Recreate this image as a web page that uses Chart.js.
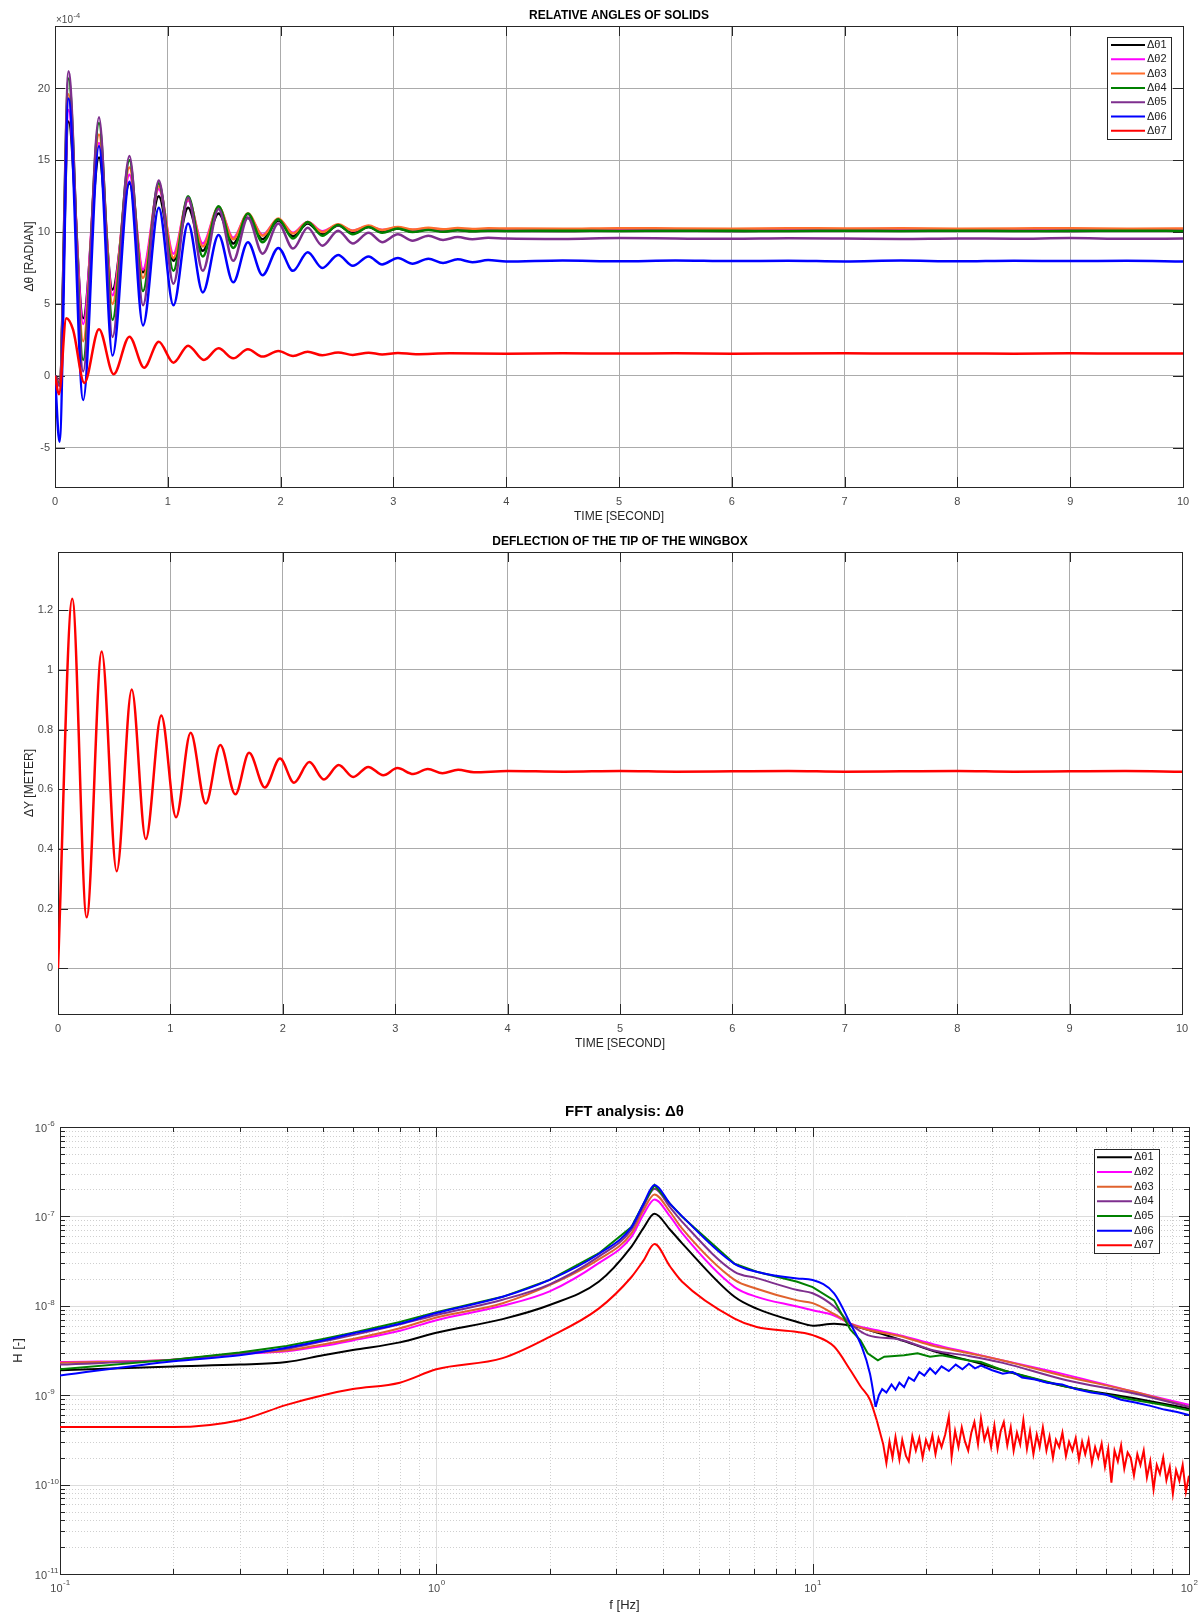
<!DOCTYPE html>
<html>
<head>
<meta charset="utf-8">
<title>Wingbox response</title>
<script src="https://cdn.jsdelivr.net/npm/chart.js@4.4.1/dist/chart.umd.min.js"></script>
<style>
  html, body { margin: 0; padding: 0; background: #ffffff; }
  #page { position: relative; width: 1204px; height: 1614px; overflow: hidden; }
  canvas { position: absolute; left: 0; }
</style>
</head>
<body>
<div id="page">
  <canvas id="angles" width="1204" height="530" style="top:0px"></canvas>
  <canvas id="tip" width="1204" height="530" style="top:530px"></canvas>
  <canvas id="fft" width="1204" height="554" style="top:1060px"></canvas>
</div>
<script>
// ---------- relative angles (values in 1e-4 rad) ----------
const tAngles = [0, 0.04, 0.12, 0.25, 0.39, 0.51, 0.66, 0.78, 0.92, 1.05, 1.18, 1.31, 1.45, 1.58, 1.71, 1.84, 1.98, 2.11, 2.24, 2.37,
  2.51, 2.64, 2.78, 2.90, 3.04, 3.17, 3.31, 3.44, 3.57, 3.70, 3.84, 4.0, 4.5, 5.0, 5.5, 6.0, 6.5, 7.0, 7.5, 8.0, 8.5, 9.0, 9.5, 10];
const dTheta1 = [0, -0.3, 17.7, 4.0, 15.2, 6.0, 13.4, 7.2, 12.5, 8.0, 11.7, 8.7, 11.3, 9.2, 11.0, 9.5, 10.8, 9.7, 10.6, 9.85,
  10.45, 9.95, 10.35, 10.0, 10.25, 10.02, 10.2, 10.05, 10.15, 10.07, 10.12, 10.1, 10.08, 10.12, 10.1, 10.08, 10.12, 10.1, 10.09, 10.11, 10.1, 10.08, 10.11, 10.1];
const dTheta2 = [0, -0.4, 18.5, 3.6, 16.2, 5.6, 14.0, 7.4, 13.0, 8.5, 12.2, 9.2, 11.7, 9.6, 11.25, 9.8, 10.9, 9.95, 10.7, 10.05,
  10.5, 10.1, 10.4, 10.15, 10.3, 10.15, 10.25, 10.18, 10.22, 10.18, 10.2, 10.2, 10.18, 10.22, 10.2, 10.18, 10.21, 10.2, 10.22, 10.19, 10.2, 10.21, 10.19, 10.2];
const dTheta3 = [0, -0.5, 19.6, 2.4, 16.8, 5.0, 14.5, 6.8, 13.2, 8.2, 12.3, 9.0, 11.75, 9.5, 11.3, 9.75, 10.95, 9.9, 10.7, 10.0,
  10.55, 10.1, 10.45, 10.15, 10.35, 10.18, 10.3, 10.2, 10.28, 10.22, 10.26, 10.25, 10.23, 10.27, 10.25, 10.24, 10.27, 10.25, 10.26, 10.24, 10.25, 10.27, 10.24, 10.25];
const dTheta4 = [0, -0.6, 20.7, 1.1, 17.6, 3.9, 15.0, 5.9, 13.4, 7.3, 12.5, 8.3, 11.8, 8.9, 11.3, 9.3, 10.9, 9.55, 10.7, 9.75,
  10.5, 9.85, 10.35, 9.95, 10.25, 10.0, 10.15, 10.02, 10.12, 10.05, 10.1, 10.08, 10.1, 10.07, 10.1, 10.09, 10.07, 10.1, 10.08, 10.1, 10.07, 10.09, 10.1, 10.08];
const dTheta5 = [0, -0.7, 21.2, 0.3, 18.0, 2.7, 15.3, 4.9, 13.6, 6.4, 12.4, 7.3, 11.6, 8.0, 11.0, 8.5, 10.6, 8.85, 10.3, 9.05,
  10.1, 9.2, 9.95, 9.3, 9.85, 9.4, 9.75, 9.45, 9.65, 9.5, 9.6, 9.55, 9.52, 9.58, 9.55, 9.53, 9.57, 9.55, 9.52, 9.56, 9.54, 9.58, 9.53, 9.55];
const dTheta6 = [0, -4.6, 19.3, -1.7, 16.0, 1.4, 13.5, 3.5, 11.7, 4.9, 10.6, 5.8, 9.8, 6.5, 9.3, 7.0, 8.9, 7.3, 8.6, 7.5,
  8.4, 7.65, 8.3, 7.75, 8.2, 7.8, 8.15, 7.85, 8.1, 7.9, 8.05, 7.95, 8.02, 7.97, 8.02, 7.98, 8.0, 7.96, 8.02, 7.97, 8.01, 7.98, 8.0, 7.95];
const tTheta7 = [0, 0.035, 0.10, 0.16, 0.26, 0.39, 0.52, 0.66, 0.79, 0.92, 1.05, 1.18, 1.32, 1.45, 1.58, 1.71, 1.84, 1.98, 2.11, 2.24,
  2.37, 2.51, 2.64, 2.78, 2.9, 3.04, 3.2, 3.5, 4.0, 4.5, 5, 5.5, 6, 6.5, 7, 7.5, 8, 8.5, 9, 9.5, 10];
const dTheta7 = [0, -1.3, 4.0, 3.2, -0.5, 3.24, 0.1, 2.72, 0.56, 2.37, 0.91, 2.09, 1.10, 1.91, 1.21, 1.84, 1.33, 1.72, 1.37, 1.67,
  1.42, 1.62, 1.45, 1.6, 1.48, 1.58, 1.5, 1.56, 1.53, 1.56, 1.54, 1.56, 1.53, 1.55, 1.56, 1.54, 1.55, 1.53, 1.56, 1.54, 1.55];
const timeTicks = [0, 1, 2, 3, 4, 5, 6, 7, 8, 9, 10];
const angleTicks = [-5, 0, 5, 10, 15, 20];

// ---------- tip deflection (m) ----------
const tTip = [0, 0.127, 0.255, 0.389, 0.522, 0.656, 0.781, 0.919, 1.05, 1.18, 1.314, 1.444, 1.578, 1.70, 1.84, 1.975, 2.10, 2.236, 2.366, 2.497,
  2.627, 2.76, 2.894, 3.02, 3.16, 3.29, 3.42, 3.56, 3.7, 4.0, 4.5, 5, 5.5, 6, 6.5, 7, 7.5, 8, 8.5, 9, 9.5, 10];
const dYTip = [0, 1.238, 0.171, 1.062, 0.325, 0.934, 0.433, 0.847, 0.506, 0.789, 0.552, 0.748, 0.583, 0.722, 0.606, 0.703, 0.622, 0.691, 0.633, 0.681,
  0.641, 0.675, 0.647, 0.671, 0.651, 0.668, 0.654, 0.665, 0.657, 0.661, 0.659, 0.661, 0.659, 0.660, 0.661, 0.659, 0.660, 0.661, 0.659, 0.660, 0.661, 0.659];
const tipTicks = [0, 0.2, 0.4, 0.6, 0.8, 1, 1.2];

// ---------- FFT of the angles ----------
const fLow = [0.1, 0.2, 0.3, 0.4, 0.5, 0.6, 0.8, 1, 1.5, 2, 2.7, 3.3, 3.55, 3.8, 4.18, 4.5, 6.2, 7.1, 9.1, 10, 11.4];
const h1Low = [1.9e-9, 2.1e-9, 2.2e-9, 2.35e-9, 2.8e-9, 3.2e-9, 3.9e-9, 5.0e-9, 7.1e-9, 1.02e-8, 1.86e-8, 4.6e-8, 7.4e-8, 1.07e-7, 7.1e-8, 5.0e-8, 1.26e-8, 9.3e-9, 6.6e-9, 6.0e-9, 6.3e-9];
const h2Low = [2.35e-9, 2.5e-9, 2.9e-9, 3.1e-9, 3.55e-9, 4.1e-9, 5.25e-9, 6.9e-9, 1.0e-8, 1.45e-8, 3.0e-8, 5.9e-8, 1.05e-7, 1.55e-7, 1.0e-7, 6.5e-8, 1.62e-8, 1.26e-8, 9.8e-9, 8.9e-9, 7.8e-9];
const h3Low = [2.3e-9, 2.5e-9, 2.95e-9, 3.16e-9, 3.7e-9, 4.25e-9, 5.6e-9, 7.4e-9, 1.07e-8, 1.7e-8, 3.3e-8, 6.45e-8, 1.17e-7, 1.76e-7, 1.12e-7, 7.3e-8, 1.95e-8, 1.55e-8, 1.15e-8, 1.07e-8, 8.1e-9];
const h4Low = [2.2e-9, 2.5e-9, 2.95e-9, 3.3e-9, 4.0e-9, 4.7e-9, 6.2e-9, 7.9e-9, 1.17e-8, 1.74e-8, 3.55e-8, 7.1e-8, 1.29e-7, 2.04e-7, 1.26e-7, 8.7e-8, 2.4e-8, 2.04e-8, 1.5e-8, 1.38e-8, 9.8e-9];
const h5Low = [1.95e-9, 2.5e-9, 3.0e-9, 3.55e-9, 4.25e-9, 5.0e-9, 6.6e-9, 8.5e-9, 1.26e-8, 1.95e-8, 3.85e-8, 7.6e-8, 1.38e-7, 2.24e-7, 1.38e-7, 9.9e-8, 2.95e-8, 2.4e-8, 1.86e-8, 1.62e-8, 1.15e-8];
const h6Low = [1.66e-9, 2.4e-9, 2.8e-9, 3.4e-9, 4.1e-9, 4.9e-9, 6.3e-9, 8.3e-9, 1.26e-8, 1.95e-8, 3.8e-8, 7.6e-8, 1.38e-7, 2.24e-7, 1.38e-7, 1.0e-7, 2.95e-8, 2.4e-8, 2.02e-8, 1.94e-8, 1.38e-8];
const h7Low = [4.4e-10, 4.4e-10, 5.25e-10, 7.8e-10, 1.0e-9, 1.17e-9, 1.38e-9, 1.95e-9, 2.6e-9, 4.5e-9, 9.3e-9, 2.1e-8, 3.2e-8, 4.9e-8, 2.75e-8, 1.86e-8, 7.2e-9, 5.8e-9, 5.1e-9, 4.7e-9, 3.5e-9];

const fTail = [12.6, 14, 17, 21, 26, 32, 47, 71, 100];
const h1Tail = [6.0e-9, 5.4e-9, 4.2e-9, 3.1e-9, 2.45e-9, 1.9e-9, 1.25e-9, 9.3e-10, 7.1e-10];
const h2Tail = [6.3e-9, 5.6e-9, 4.7e-9, 3.7e-9, 3.0e-9, 2.45e-9, 1.7e-9, 1.1e-9, 7.8e-10];
const h3Tail = [6.3e-9, 5.4e-9, 4.6e-9, 3.55e-9, 2.95e-9, 2.45e-9, 1.62e-9, 1.1e-9, 7.4e-10];
const h4Tail = [6.3e-9, 4.7e-9, 4.2e-9, 3.16e-9, 2.75e-9, 2.3e-9, 1.48e-9, 1.05e-9, 7.4e-10];
const f5Tail = [12.6, 13.4, 14.0, 14.9, 15.5, 16.5, 17.5, 19, 20.5, 22, 24, 26, 28, 32, 38, 47, 60, 71, 85, 100];
const h5Tail = [5.4e-9, 4.1e-9, 2.95e-9, 2.45e-9, 2.7e-9, 2.75e-9, 2.8e-9, 2.95e-9, 2.7e-9, 2.8e-9, 2.6e-9, 2.45e-9, 2.35e-9, 1.9e-9, 1.58e-9, 1.25e-9, 1.02e-9, 8.9e-10, 7.8e-10, 6.8e-10];
const f6Tail = [12.6, 13.5, 14.2, 14.7, 15.0, 15.3, 15.7, 16.2, 16.6, 17.0, 17.5, 18.0, 18.6, 19.2, 19.8, 20.5, 21.2, 22, 23, 24,
  25, 26, 27, 28, 30, 32, 34, 36, 39, 42, 46, 50, 55, 60, 66, 72, 79, 86, 93, 100];
const h6Tail = [6.3e-9, 3.5e-9, 1.74e-9, 7.4e-10, 1.0e-9, 1.17e-9, 1.07e-9, 1.32e-9, 1.15e-9, 1.38e-9, 1.23e-9, 1.58e-9, 1.45e-9, 1.82e-9, 1.66e-9, 2.0e-9, 1.74e-9, 2.1e-9, 1.86e-9, 2.2e-9,
  1.95e-9, 2.25e-9, 2.0e-9, 2.15e-9, 1.9e-9, 1.74e-9, 1.82e-9, 1.58e-9, 1.5e-9, 1.38e-9, 1.32e-9, 1.17e-9, 1.07e-9, 1.02e-9, 8.9e-10, 8.3e-10, 7.6e-10, 6.9e-10, 6.5e-10, 6.0e-10];
const f7Tail = [12.6, 13.4, 14.2, 14.8,
  15.4, 15.7, 16.0, 16.3, 16.6, 17.0, 17.3, 17.7, 18.0, 18.4, 18.8, 19.2, 19.6, 20.0, 20.4, 20.8, 21.2, 21.6, 22.0, 22.5,
  23.0, 23.4, 23.9, 24.4, 24.9, 25.4, 25.9, 26.4, 26.9, 27.5, 28.0, 28.6, 29.2, 29.8, 30.4, 31.0, 31.6, 32.2, 32.9, 33.6,
  34.2, 34.9, 35.6, 36.3, 37.1, 37.8, 38.6, 39.4, 40.1, 40.9, 41.8, 42.6, 43.5, 44.3, 45.2, 46.1, 47.1, 48.0, 49.0, 50.0,
  51.0, 52.0, 53.0, 54.1, 55.2, 56.3, 57.4, 58.6, 59.8, 61.0, 62.2, 63.4, 64.7, 66.0, 67.3, 68.7, 70.0, 71.4, 72.9, 74.3,
  75.8, 77.3, 78.9, 80.5, 82.1, 83.7, 85.4, 87.1, 88.9, 90.6, 92.4, 94.3, 96.2, 98.1, 100];
const h7Tail = [1.9e-9, 1.26e-9, 8.9e-10, 5.25e-10,
  2.82e-10, 1.74e-10, 3.02e-10, 2.0e-10, 3.39e-10, 1.91e-10, 3.16e-10, 2.09e-10, 1.82e-10, 3.47e-10, 2.4e-10, 3.31e-10, 2.0e-10, 3.16e-10, 2.51e-10, 3.55e-10, 2.19e-10, 3.31e-10, 2.63e-10, 3.63e-10,
  5.75e-10, 2.04e-10, 3.98e-10, 2.63e-10, 4.37e-10, 3.02e-10, 2.4e-10, 3.8e-10, 5.0e-10, 2.82e-10, 5.5e-10, 3.16e-10, 4.17e-10, 2.63e-10, 4.57e-10, 2.51e-10, 3.98e-10, 5.0e-10, 2.75e-10, 4.37e-10,
  2.4e-10, 3.8e-10, 2.82e-10, 5.25e-10, 2.51e-10, 3.98e-10, 2.19e-10, 3.63e-10, 2.63e-10, 4.37e-10, 2.4e-10, 3.47e-10, 2.0e-10, 3.16e-10, 2.63e-10, 3.8e-10, 2.09e-10, 3.02e-10, 2.4e-10, 3.31e-10,
  1.91e-10, 3.02e-10, 2.19e-10, 3.16e-10, 1.74e-10, 2.63e-10, 2.0e-10, 2.88e-10, 1.58e-10, 2.51e-10, 1.05e-10, 2.4e-10, 1.82e-10, 2.75e-10, 1.51e-10, 2.29e-10, 2.0e-10, 1.26e-10, 2.19e-10, 1.66e-10,
  2.4e-10, 1.2e-10, 1.82e-10, 8.9e-11, 1.66e-10, 1.32e-10, 2.0e-10, 1.12e-10, 1.58e-10, 7.9e-11, 1.45e-10, 1.1e-10, 1.66e-10, 8.3e-11, 1.26e-10];

// axis ticks of the fft plot
const fftXMajor = [0.1, 1, 10, 100];
const fftXExp = [-1, 0, 1, 2];
const fftYMajor = [1e-6, 1e-7, 1e-8, 1e-9, 1e-10, 1e-11];
const fftYExp = [-6, -7, -8, -9, -10, -11];
const minorSteps = [2, 3, 4, 5, 6, 7, 8, 9];

const seriesLabels = ['Δθ1', 'Δθ2', 'Δθ3', 'Δθ4', 'Δθ5', 'Δθ6', 'Δθ7'];
const angleColors = ['#000000', '#ff00ff', '#ff6e2e', '#008000', '#7e2f8e', '#0000ff', '#ff0000'];
const fftColors = ['#000000', '#ff00ff', '#e0622d', '#7e2f8e', '#008000', '#0000ff', '#ff0000'];

const FONT = '"Liberation Sans", Arial, Helvetica, sans-serif';
const AXIS = '#262626';
const TICK = '#4a4a4a';
const GRID = '#ababab';
Chart.defaults.font.family = FONT;

function pts(xs, ys) {
    return xs.map((x, i) => ({ x: x, y: ys[i] }));
}

function drawBoxTicks(chart, xVals, yVals, len) {
    const { ctx, chartArea: a, scales } = chart;
    ctx.save();
    ctx.strokeStyle = AXIS;
    ctx.lineWidth = 1;
    ctx.beginPath();
    xVals.forEach(v => {
        const px = Math.round(scales.x.getPixelForValue(v)) + 0.5;
        ctx.moveTo(px, a.bottom); ctx.lineTo(px, a.bottom - len);
        ctx.moveTo(px, a.top); ctx.lineTo(px, a.top + len);
    });
    yVals.forEach(v => {
        const py = Math.round(scales.y.getPixelForValue(v)) + 0.5;
        ctx.moveTo(a.left, py); ctx.lineTo(a.left + len, py);
        ctx.moveTo(a.right, py); ctx.lineTo(a.right - len, py);
    });
    ctx.stroke();
    ctx.strokeRect(Math.round(a.left) + 0.5, Math.round(a.top) + 0.5, Math.round(a.right - a.left), Math.round(a.bottom - a.top));
    ctx.restore();
}

function drawLegend(ctx, box, colors) {
    ctx.save();
    ctx.fillStyle = '#ffffff';
    ctx.fillRect(box.x, box.y, box.w, box.h);
    ctx.strokeStyle = AXIS;
    ctx.lineWidth = 1;
    ctx.strokeRect(box.x + 0.5, box.y + 0.5, box.w, box.h);
    ctx.font = '11px ' + FONT;
    ctx.textBaseline = 'middle';
    ctx.textAlign = 'left';
    seriesLabels.forEach((lab, i) => {
        const y = box.y + box.first + i * box.row;
        ctx.strokeStyle = colors[i];
        ctx.lineWidth = 2;
        ctx.beginPath();
        ctx.moveTo(box.l0, y); ctx.lineTo(box.l1, y);
        ctx.stroke();
        ctx.fillStyle = '#1a1a1a';
        ctx.fillText(lab, box.tx, y);
    });
    ctx.restore();
}

function drawTitle(ctx, text, x, y, size) {
    ctx.save();
    ctx.font = 'bold ' + size + 'px ' + FONT;
    ctx.fillStyle = '#000000';
    ctx.textAlign = 'center';
    ctx.textBaseline = 'middle';
    ctx.fillText(text, x, y);
    ctx.restore();
}

function linearScales(xTitle, yTitle, yMin, yMax, yTicks, yWidth, fmt) {
    return {
        x: {
            type: 'linear', min: 0, max: 10, bounds: 'data',
            ticks: { padding: 8, color: TICK, font: { size: 11 }, maxRotation: 0, autoSkip: false },
            afterBuildTicks: s => { s.ticks = timeTicks.map(v => ({ value: v })); },
            grid: { color: GRID, drawTicks: false },
            border: { display: false },
            title: { display: true, text: xTitle, color: AXIS, font: { size: 12 }, padding: { top: 0, bottom: 3 } },
            afterFit: s => { s.height = 40; }
        },
        y: {
            type: 'linear', min: yMin, max: yMax, bounds: 'data',
            ticks: { padding: 5, color: TICK, font: { size: 11 }, autoSkip: false, callback: fmt },
            afterBuildTicks: s => { s.ticks = yTicks.map(v => ({ value: v })); },
            grid: { color: GRID, drawTicks: false },
            border: { display: false },
            title: { display: true, text: yTitle, color: AXIS, font: { size: 12 }, padding: { top: 4, bottom: 0 } },
            afterFit: s => { s.width = yWidth; }
        }
    };
}

// ---------- chart 1 ----------
const angleSeries = [
    [tAngles, dTheta1], [tAngles, dTheta2], [tAngles, dTheta3], [tAngles, dTheta4],
    [tAngles, dTheta5], [tAngles, dTheta6], [tTheta7, dTheta7]
];

const anglesDecor = {
    id: 'anglesDecor',
    beforeDatasetsDraw(chart) {
        drawBoxTicks(chart, timeTicks, angleTicks, 10);
    },
    afterDraw(chart) {
        const ctx = chart.ctx;
        drawTitle(ctx, 'RELATIVE ANGLES OF SOLIDS', 619, 16, 12);
        ctx.save();
        ctx.fillStyle = TICK;
        ctx.textBaseline = 'middle';
        ctx.font = '10px ' + FONT;
        ctx.fillText('×10', 56, 20);
        const w = ctx.measureText('×10').width;
        ctx.font = '7.5px ' + FONT;
        ctx.fillText('-4', 56 + w + 0.5, 16);
        ctx.restore();
        drawLegend(ctx, { x: 1107, y: 37, w: 64, h: 102, first: 8, row: 14.3, l0: 1111, l1: 1145, tx: 1147 }, angleColors);
    }
};

new Chart(document.getElementById('angles'), {
    type: 'line',
    data: {
        datasets: angleSeries.map((s, i) => ({
            label: seriesLabels[i],
            data: pts(s[0], s[1]),
            borderColor: angleColors[i],
            borderWidth: 2.5,
            pointRadius: 0,
            cubicInterpolationMode: 'monotone',
            order: 7 - i
        }))
    },
    options: {
        responsive: false, animation: false, events: [],
        layout: { padding: { left: 18, right: 21, top: 26, bottom: 3 } },
        plugins: { legend: { display: false }, tooltip: { enabled: false } },
        scales: linearScales('TIME [SECOND]', 'Δθ [RADIAN]', -7.75, 24.35, angleTicks, 37, v => String(v))
    },
    plugins: [anglesDecor]
});

// ---------- chart 2 ----------
const tipDecor = {
    id: 'tipDecor',
    beforeDatasetsDraw(chart) {
        drawBoxTicks(chart, timeTicks, tipTicks, 10);
    },
    afterDraw(chart) {
        drawTitle(chart.ctx, 'DEFLECTION OF THE TIP OF THE WINGBOX', 620, 12, 12);
    }
};

new Chart(document.getElementById('tip'), {
    type: 'line',
    data: {
        datasets: [{
            label: 'ΔY',
            data: pts(tTip, dYTip),
            borderColor: '#ff0000',
            borderWidth: 2.5,
            pointRadius: 0,
            cubicInterpolationMode: 'monotone'
        }]
    },
    options: {
        responsive: false, animation: false, events: [],
        layout: { padding: { left: 18, right: 22, top: 22, bottom: 6 } },
        plugins: { legend: { display: false }, tooltip: { enabled: false } },
        scales: linearScales('TIME [SECOND]', 'ΔY [METER]', -0.153, 1.395, tipTicks, 40, v => String(Math.round(v * 10) / 10))
    },
    plugins: [tipDecor]
});

// ---------- chart 3 ----------
// smooth part drawn with monotone curves, noisy tails of Δθ6 and Δθ7 drawn as straight segments
const fftSeries = [
    { i: 0, f: fLow.concat(fTail), h: h1Low.concat(h1Tail), smooth: true },
    { i: 1, f: fLow.concat(fTail), h: h2Low.concat(h2Tail), smooth: true },
    { i: 2, f: fLow.concat(fTail), h: h3Low.concat(h3Tail), smooth: true },
    { i: 3, f: fLow.concat(fTail), h: h4Low.concat(h4Tail), smooth: true },
    { i: 4, f: fLow.concat(f5Tail), h: h5Low.concat(h5Tail), smooth: false },
    { i: 5, f: fLow.concat(f6Tail.slice(0, 4)), h: h6Low.concat(h6Tail.slice(0, 4)), smooth: true },
    { i: 5, f: f6Tail.slice(3), h: h6Tail.slice(3), smooth: false },
    { i: 6, f: fLow.concat(f7Tail.slice(0, 4)), h: h7Low.concat(h7Tail.slice(0, 4)), smooth: true },
    { i: 6, f: f7Tail.slice(3), h: h7Tail.slice(3), smooth: false }
];

const fftXMinor = [];
fftXMajor.slice(0, -1).forEach(m => minorSteps.forEach(k => fftXMinor.push(m * k)));
const fftYMinor = [];
fftYMajor.slice(1).forEach(m => minorSteps.forEach(k => fftYMinor.push(m * k)));

const fftDecor = {
    id: 'fftDecor',
    beforeDatasetsDraw(chart) {
        const { ctx, chartArea: a, scales: { x, y } } = chart;
        ctx.save();
        ctx.lineWidth = 1;
        // minor grid, dotted
        ctx.strokeStyle = '#cfcfcf';
        ctx.setLineDash([1, 2]);
        ctx.beginPath();
        fftXMinor.forEach(v => {
            const px = Math.round(x.getPixelForValue(v)) + 0.5;
            ctx.moveTo(px, a.top); ctx.lineTo(px, a.bottom);
        });
        fftYMinor.forEach(v => {
            const py = Math.round(y.getPixelForValue(v)) + 0.5;
            ctx.moveTo(a.left, py); ctx.lineTo(a.right, py);
        });
        ctx.stroke();
        // major grid
        ctx.setLineDash([]);
        ctx.strokeStyle = '#dcdcdc';
        ctx.beginPath();
        fftXMajor.forEach(v => {
            const px = Math.round(x.getPixelForValue(v)) + 0.5;
            ctx.moveTo(px, a.top); ctx.lineTo(px, a.bottom);
        });
        fftYMajor.forEach(v => {
            const py = Math.round(y.getPixelForValue(v)) + 0.5;
            ctx.moveTo(a.left, py); ctx.lineTo(a.right, py);
        });
        ctx.stroke();
        ctx.restore();
        drawBoxTicks(chart, fftXMinor, fftYMinor, 5);
        drawBoxTicks(chart, fftXMajor, fftYMajor, 10);
    },
    afterDraw(chart) {
        const { ctx, chartArea: a, scales: { x, y } } = chart;
        drawTitle(ctx, 'FFT analysis: Δθ', (a.left + a.right) / 2, 52, 15);
        ctx.save();
        ctx.fillStyle = TICK;
        ctx.textBaseline = 'middle';
        // y labels
        fftYMajor.forEach((v, i) => {
            const py = y.getPixelForValue(v);
            ctx.font = '11px ' + FONT;
            ctx.textAlign = 'right';
            ctx.fillText('10', 47, py + 1.5);
            ctx.font = '8px ' + FONT;
            ctx.textAlign = 'left';
            ctx.fillText(String(fftYExp[i]), 47.5, py - 3);
        });
        // x labels
        fftXMajor.forEach((v, i) => {
            const px = x.getPixelForValue(v);
            ctx.font = '11px ' + FONT;
            const w10 = ctx.measureText('10').width;
            ctx.font = '8px ' + FONT;
            const we = ctx.measureText(String(fftXExp[i])).width;
            const x0 = px - (w10 + we) / 2;
            ctx.textAlign = 'left';
            ctx.font = '11px ' + FONT;
            ctx.fillText('10', x0, 529);
            ctx.font = '8px ' + FONT;
            ctx.fillText(String(fftXExp[i]), x0 + w10 + 0.5, 522.5);
        });
        // axis titles
        ctx.fillStyle = AXIS;
        ctx.font = '13px ' + FONT;
        ctx.textAlign = 'center';
        ctx.fillText('f [Hz]', (a.left + a.right) / 2, 545);
        ctx.translate(18, (a.top + a.bottom) / 2);
        ctx.rotate(-Math.PI / 2);
        ctx.fillText('H [-]', 0, 0);
        ctx.restore();
        drawLegend(ctx, { x: 1094, y: 89, w: 65, h: 104, first: 8.3, row: 14.67, l0: 1097, l1: 1132, tx: 1134 }, fftColors);
    }
};

new Chart(document.getElementById('fft'), {
    type: 'line',
    data: {
        datasets: fftSeries.map(s => ({
            label: seriesLabels[s.i],
            data: pts(s.f, s.h),
            borderColor: fftColors[s.i],
            borderWidth: 2,
            pointRadius: 0,
            cubicInterpolationMode: s.smooth ? 'monotone' : 'default',
            tension: 0,
            order: 7 - s.i
        }))
    },
    options: {
        responsive: false, animation: false, events: [],
        layout: { padding: { left: 60, right: 15, top: 67, bottom: 40 } },
        plugins: { legend: { display: false }, tooltip: { enabled: false } },
        scales: {
            x: { type: 'logarithmic', min: 0.1, max: 100, display: false },
            y: { type: 'logarithmic', min: 1e-11, max: 1e-6, display: false }
        }
    },
    plugins: [fftDecor]
});
</script>
</body>
</html>
